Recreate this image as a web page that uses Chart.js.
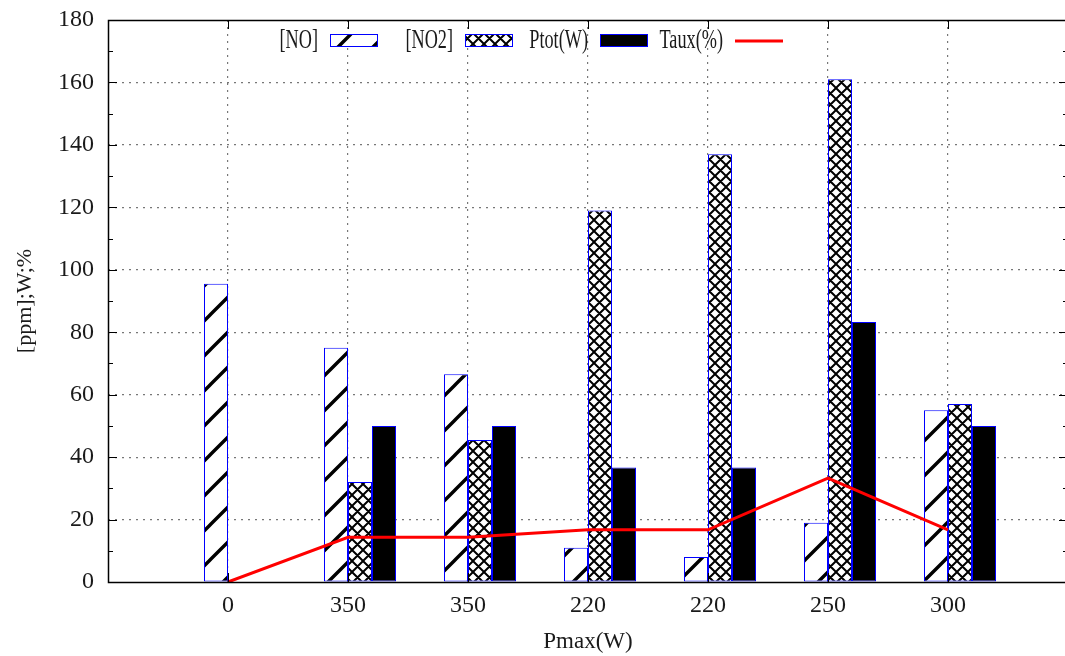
<!DOCTYPE html>
<html>
<head>
<meta charset="utf-8">
<script src="https://cdn.jsdelivr.net/npm/chart.js@4.4.1/dist/chart.umd.min.js"></script>
<style>
  html, body { margin: 0; padding: 0; background: #fff; overflow: hidden; }
  #wrap { width: 1076px; height: 656px; }
</style>
</head>
<body>
<div id="wrap"><canvas id="chart"></canvas></div>
<script>
const CATEGORIES = ['0', '350', '350', '220', '220', '250', '300'];
const NO_VALUES = [95.5, 75, 66.5, 11, 8, 19, 55];
const NO2_VALUES = [0, 32, 45.5, 119, 137, 161, 57];
const PTOT_VALUES = [0, 50, 50, 36.7, 36.7, 83.3, 50];
const TAUX_VALUES = [0, 14.3, 14.3, 16.7, 16.7, 33.3, 16.7];
const Y_TICKS = [0, 20, 40, 60, 80, 100, 120, 140, 160, 180];

const FONT = '"Liberation Serif", "DejaVu Serif", serif';
const TEXT_COLOR = '#1a1a1a';
const BAR_BORDER = '#0000ff';
const GROUP_SHIFT = 0.1; // gnuplot puts the first box just left of the tick

function makePattern(size, draw) {
  const c = document.createElement('canvas');
  c.width = size;
  c.height = size;
  const g = c.getContext('2d');
  g.fillStyle = '#fff';
  g.fillRect(0, 0, size, size);
  g.strokeStyle = '#000';
  draw(g, size);
  return g.createPattern(c, 'repeat');
}

const hatchNO = makePattern(35, (g, s) => {
  g.lineWidth = 3.4;
  g.beginPath();
  for (let k = -1; k <= 1; k++) {
    g.moveTo(k * s - 2, s + 2);
    g.lineTo(k * s + s + 2, -2);
  }
  g.stroke();
});

const hatchNO2 = makePattern(11, (g, s) => {
  g.lineWidth = 2;
  g.beginPath();
  for (let k = -1; k <= 1; k++) {
    g.moveTo(k * s - 1, -1);
    g.lineTo(k * s + s + 1, s + 1);
    g.moveTo(k * s - 1, s + 1);
    g.lineTo(k * s + s + 1, -1);
  }
  g.stroke();
});

const toPoints = (values, shift) => values.map((y, i) => ({ x: i + shift, y }));

const LEGEND_ITEMS = [
  { label: '[NO]', fill: hatchNO },
  { label: '[NO2]', fill: hatchNO2 },
  { label: 'Ptot(W)', fill: '#000' },
  { label: 'Taux(%)', line: '#ff0000' }
];

// narrow, tall lettering like the gnuplot terminal font
function condensedText(ctx, text, x, y, align) {
  ctx.save();
  ctx.translate(x, y);
  ctx.scale(0.76, 1.12);
  ctx.textAlign = align;
  ctx.textBaseline = 'middle';
  ctx.fillText(text, 0, 0);
  ctx.restore();
}

const gnuplotFrame = {
  id: 'gnuplotFrame',
  afterDatasetsDraw(chart) {
    const { ctx, chartArea: a, scales } = chart;
    ctx.save();
    ctx.strokeStyle = '#000';
    ctx.lineWidth = 1;
    // inward ticks on all four sides
    ctx.beginPath();
    for (let v = 0; v <= 180; v += 10) {
      const y = Math.round(scales.y.getPixelForValue(v)) + 0.5;
      const len = v % 20 === 0 ? 9 : 5;
      ctx.moveTo(a.left, y); ctx.lineTo(a.left + len, y);
      ctx.moveTo(a.right, y); ctx.lineTo(a.right - len, y);
    }
    CATEGORIES.forEach((_, i) => {
      const x = Math.round(scales.x.getPixelForValue(i)) + 0.5;
      ctx.moveTo(x, a.bottom); ctx.lineTo(x, a.bottom - 9);
      ctx.moveTo(x, a.top); ctx.lineTo(x, a.top + 9);
    });
    ctx.stroke();
    ctx.lineWidth = 1.5;
    ctx.strokeRect(Math.round(a.left) + 0.5, Math.round(a.top) + 0.5,
      Math.round(a.right - a.left), Math.round(a.bottom - a.top));

    // key, gnuplot style: text right-justified before the sample
    ctx.font = '24px ' + FONT;
    const keyY = a.top + 21;
    LEGEND_ITEMS.forEach((item, i) => {
      const sx = a.left + 222 + i * 135;
      ctx.fillStyle = TEXT_COLOR;
      condensedText(ctx, item.label, sx - 12, keyY, 'right');
      if (item.line) {
        ctx.strokeStyle = item.line;
        ctx.lineWidth = 3;
        ctx.beginPath();
        ctx.moveTo(sx, keyY);
        ctx.lineTo(sx + 48, keyY);
        ctx.stroke();
      } else {
        ctx.fillStyle = item.fill;
        ctx.fillRect(sx, keyY - 7, 48, 13);
        ctx.strokeStyle = BAR_BORDER;
        ctx.lineWidth = 1;
        ctx.strokeRect(sx + 0.5, keyY - 6.5, 47, 12);
      }
    });
    ctx.restore();
  }
};

const barDataset = (label, values, fill) => ({
  type: 'bar',
  label,
  data: toPoints(values, GROUP_SHIFT),
  backgroundColor: fill,
  borderColor: BAR_BORDER,
  borderWidth: 1,
  borderSkipped: false,
  categoryPercentage: 0.6,
  barPercentage: 1,
  order: 1
});

new Chart(document.getElementById('chart'), {
  data: {
    datasets: [
      barDataset('[NO]', NO_VALUES, hatchNO),
      barDataset('[NO2]', NO2_VALUES, hatchNO2),
      barDataset('Ptot(W)', PTOT_VALUES, '#000'),
      {
        type: 'line',
        label: 'Taux(%)',
        data: toPoints(TAUX_VALUES, 0),
        borderColor: '#ff0000',
        borderWidth: 3,
        pointRadius: 0,
        tension: 0,
        fill: false,
        order: 0
      }
    ]
  },
  options: {
    responsive: true,
    maintainAspectRatio: false,
    animation: false,
    layout: { padding: { top: 20, right: 8, left: 0, bottom: 0 } },
    plugins: {
      legend: { display: false },
      tooltip: { enabled: false }
    },
    scales: {
      x: {
        type: 'linear',
        min: -1,
        max: 7,
        offset: false,
        afterFit: (scale) => {
          scale.height = 74;
          scale.paddingLeft = 0;
          scale.paddingRight = 0;
        },
        afterBuildTicks: (scale) => {
          scale.ticks = [-1, ...CATEGORIES.map((_, i) => i), 7].map((value) => ({ value }));
        },
        ticks: {
          autoSkip: false,
          maxRotation: 0,
          padding: 9,
          color: TEXT_COLOR,
          font: { family: FONT, size: 24 },
          callback: (v) => CATEGORIES[v] ?? ''
        },
        grid: {
          offset: false,
          drawTicks: false,
          color: (c) => (c.tick && c.tick.value >= 0 && c.tick.value <= 6 ? '#777' : 'transparent'),
          lineWidth: 1.2
        },
        border: { display: false, dash: [2, 5] },
        title: {
          display: true,
          text: 'Pmax(W)',
          color: TEXT_COLOR,
          font: { family: FONT, size: 23 },
          padding: { top: 0, bottom: 0 }
        }
      },
      y: {
        min: 0,
        max: 180,
        afterFit: (scale) => {
          scale.width = 108;
          scale.paddingTop = 0;
          scale.paddingBottom = 0;
        },
        afterBuildTicks: (scale) => {
          scale.ticks = Y_TICKS.map((value) => ({ value }));
        },
        ticks: {
          padding: 14,
          color: TEXT_COLOR,
          font: { family: FONT, size: 24 }
        },
        grid: {
          drawTicks: false,
          color: (c) => (c.tick && c.tick.value > 0 && c.tick.value < 180 ? '#777' : 'transparent'),
          lineWidth: 1.2
        },
        border: { display: false, dash: [2, 5] },
        title: {
          display: true,
          text: '[ppm];W;%',
          color: TEXT_COLOR,
          font: { family: FONT, size: 22 },
          padding: { top: 12, bottom: 0 }
        }
      }
    }
  },
  plugins: [gnuplotFrame]
});
</script>
</body>
</html>
